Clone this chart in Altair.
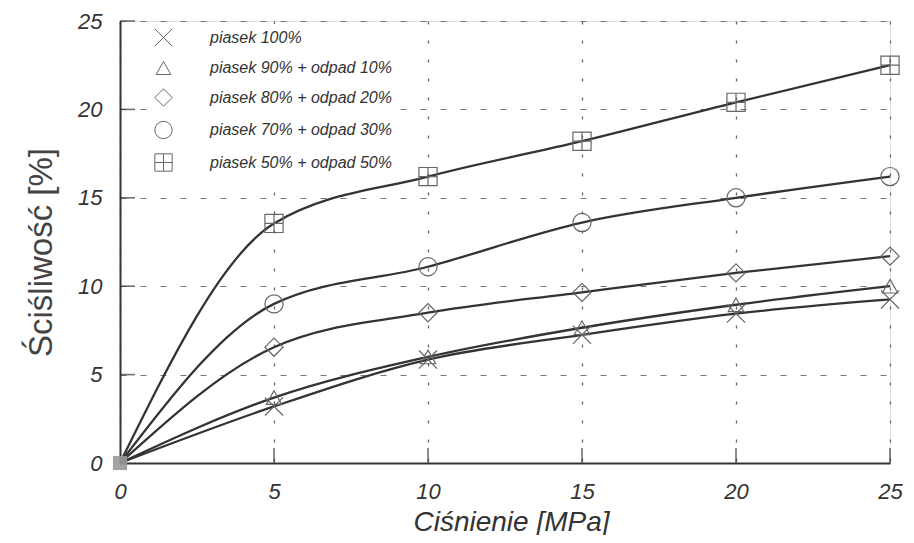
import altair as alt
import pandas as pd

pressure = [0, 5, 10, 15, 20, 25]
series_names = [
    "piasek 100%",
    "piasek 90% + odpad 10%",
    "piasek 80% + odpad 20%",
    "piasek 70% + odpad 30%",
    "piasek 50% + odpad 50%",
]
s100 = [0, 3.2, 5.85, 7.25, 8.45, 9.25]
s90 = [0, 3.7, 6.0, 7.65, 8.95, 10.0]
s80 = [0, 6.55, 8.5, 9.65, 10.75, 11.7]
s70 = [0, 9.0, 11.1, 13.6, 15.0, 16.2]
s50 = [0, 13.55, 16.2, 18.2, 20.4, 22.5]
ticks = [5, 10, 15, 20, 25]

shapes = [
    "M-1,-1L1,1M-1,1L1,-1",
    "M0,-0.75L0.85,0.75L-0.85,0.75Z",
    "diamond",
    "circle",
    "M-1,-1H1V1H-1ZM0,-1V1M-1,0H1",
]

rows = []
for name, vals in zip(series_names, [s100, s90, s80, s70, s50]):
    for p, v in zip(pressure, vals):
        rows.append({"p": p, "v": v, "s": name})
df = pd.DataFrame(rows)
df_pts = df[df.p > 0]
df_origin = pd.DataFrame({"p": [pressure[0]], "v": [s100[0]]})
df_ticks = pd.DataFrame({"t": ticks})

W, H = 770, 442
FONT = "Liberation Sans"

xscale = alt.Scale(domain=[0, 25], nice=False)
yscale = alt.Scale(domain=[0, 25], nice=False)

xaxis = alt.Axis(
    values=[0, 5, 10, 15, 20, 25], ticks=False, grid=True,
    gridDash=[3, 16], gridColor="#666", gridWidth=1.3,
    domainColor="#333", domainWidth=2,
    labelFont=FONT, labelFontSize=22, labelFontStyle="italic", labelColor="#333",
    labelPadding=18, labelFlush=False,
    title="Ciśnienie [MPa]", titleFont=FONT, titleFontSize=28, titleFontStyle="italic",
    titleFontWeight="normal", titleColor="#333", titleX=391, titleY=67,
    titleBaseline="alphabetic",
)
yaxis = alt.Axis(
    values=[0, 5, 10, 15, 20, 25], ticks=False, grid=True,
    gridDash=[6, 14], gridColor="#777", gridWidth=1.2,
    domainColor="#333", domainWidth=2,
    labelFont=FONT, labelFontSize=22, labelFontStyle="italic", labelColor="#333",
    labelPadding=18, labelFlush=False,
    title="Ściśliwość [%]", titleFont=FONT, titleFontSize=33,
    titleFontWeight="normal", titleColor="#444", titleX=-79, titleY=231,
    titleBaseline="middle", titleAngle=-90,
)

base = alt.Chart(df)

lines = base.mark_line(interpolate="monotone", color="#333", strokeWidth=2.3).encode(
    x=alt.X("p:Q", scale=xscale, axis=xaxis),
    y=alt.Y("v:Q", scale=yscale, axis=yaxis),
    detail="s:N",
)

points = alt.Chart(df_pts).mark_point(size=330, strokeWidth=1.2, color="#666", opacity=1).encode(
    x="p:Q",
    y="v:Q",
    shape=alt.Shape(
        "s:N",
        scale=alt.Scale(domain=series_names, range=shapes),
        legend=alt.Legend(
            title=None, orient="none", legendX=30, legendY=3, padding=4,
            fillColor="white", strokeColor="white",
            rowPadding=9.5, labelOffset=37, symbolSize=300, symbolStrokeWidth=1,
            symbolStrokeColor="#666", symbolFillColor="transparent",
            labelFont=FONT, labelFontSize=16, labelFontStyle="italic",
            labelColor="#333", labelLimit=400,
        ),
    ),
)

origin = alt.Chart(df_origin).mark_point(
    shape="square", size=200, filled=True, color="#999", opacity=0.9
).encode(x="p:Q", y="v:Q")

xticks = alt.Chart(df_ticks).mark_tick(
    orient="vertical", size=15, thickness=1.6, color="#333"
).encode(x="t:Q", y=alt.value(H - 7.5))

yticks = alt.Chart(df_ticks).mark_tick(
    orient="horizontal", size=15, thickness=1.6, color="#333"
).encode(y="t:Q", x=alt.value(7.5))

chart = alt.layer(lines, points, origin, xticks, yticks).properties(
    width=W, height=H,
    autosize=alt.AutoSizeParams(type="none"),
    padding={"left": 112, "top": 13, "right": 16, "bottom": 72},
).configure_view(stroke=None).configure(background="white")

chart.save("out.html", embed_options={"renderer": "svg", "actions": False})
